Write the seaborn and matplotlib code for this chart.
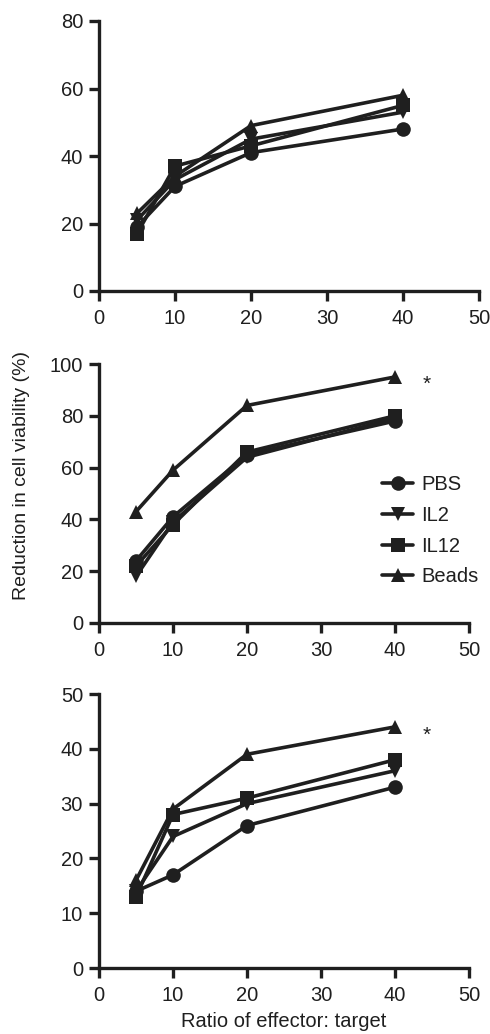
import matplotlib
matplotlib.use("Agg")
import matplotlib.pyplot as plt
import seaborn as sns
import pandas as pd

# effector:target ratios on the x axis
ratios = [5, 10, 20, 40]
groups = ["PBS", "IL2", "IL12", "Beads"]

# top panel
pbs_top = [19, 31, 41, 48]
il2_top = [21, 33, 45, 53]
il12_top = [17, 37, 43, 55]
beads_top = [23, 34, 49, 58]

# middle panel
pbs_mid = [24, 41, 65, 78]
il2_mid = [18, 39, 64, 79]
il12_mid = [22, 38, 66, 80]
beads_mid = [43, 59, 84, 95]

# bottom panel
pbs_bot = [14, 17, 26, 33]
il2_bot = [14, 24, 30, 36]
il12_bot = [13, 28, 31, 38]
beads_bot = [16, 29, 39, 44]

y_limits = [80, 100, 50]
y_steps = [20, 20, 10]

sns.set_style("ticks")
plt.rcParams["font.family"] = ["Liberation Sans", "DejaVu Sans"]

INK = "#1f1f1f"
markers = {"PBS": "o", "IL2": "v", "IL12": "s", "Beads": "^"}


def make_frame(series):
    rows = []
    for g, vals in zip(groups, series):
        for r, v in zip(ratios, vals):
            rows.append({"ratio": r, "value": v, "group": g})
    return pd.DataFrame(rows)


frames = [
    make_frame([pbs_top, il2_top, il12_top, beads_top]),
    make_frame([pbs_mid, il2_mid, il12_mid, beads_mid]),
    make_frame([pbs_bot, il2_bot, il12_bot, beads_bot]),
]

fig = plt.figure(figsize=(4.9, 10.34), dpi=100)
W, H = 490, 1034
# axes boxes in pixels: left, right, top, bottom
boxes = [(99, 479, 21, 291), (99, 469, 364, 623), (99, 469, 694, 968)]

axes = []
for (l, r, t, b), df, ymax, step in zip(boxes, frames, y_limits, y_steps):
    ax = fig.add_axes([l / W, 1 - b / H, (r - l) / W, (b - t) / H])
    sns.lineplot(data=df, x="ratio", y="value", hue="group", style="group",
                 hue_order=groups, style_order=groups, markers=markers,
                 dashes=False, palette=[INK] * 4, linewidth=2.6,
                 markersize=10.5, markeredgewidth=0, ax=ax, clip_on=False)
    ax.set_xlim(0, 50)
    ax.set_ylim(0, ymax)
    ax.set_xticks(range(0, 51, 10))
    ax.set_yticks(range(0, ymax + 1, step))
    ax.set_xlabel("")
    ax.set_ylabel("")
    sns.despine(ax=ax)
    for side in ["left", "bottom"]:
        ax.spines[side].set_linewidth(2.4)
        ax.spines[side].set_color(INK)
    ax.tick_params(length=7, width=2.4, color=INK, labelsize=14.5,
                   labelcolor=INK)
    ax.tick_params(axis="x", pad=6)
    ax.tick_params(axis="y", pad=4.5)
    ax.get_legend().remove()
    axes.append(ax)

leg = axes[1].legend(*axes[1].get_legend_handles_labels(), loc="upper left",
                     bbox_to_anchor=(0.765, 0.57), frameon=False,
                     fontsize=14.5, borderpad=0, borderaxespad=0,
                     handlelength=1.55, handletextpad=0.4, labelspacing=0.58)
for txt in leg.get_texts():
    txt.set_color(INK)

axes[1].text(44.3, 92, "*", fontsize=15, color=INK, ha="center", va="center")
axes[2].text(44.3, 42.5, "*", fontsize=15, color=INK, ha="center", va="center")

axes[2].set_xlabel("Ratio of effector: target", fontsize=14.5, color=INK,
                   labelpad=5)
fig.text(22 / W, 1 - 475 / H, "Reduction in cell viability (%)", rotation=90,
         fontsize=14, color=INK, ha="center", va="center")

fig.savefig("out.png", dpi=100)
